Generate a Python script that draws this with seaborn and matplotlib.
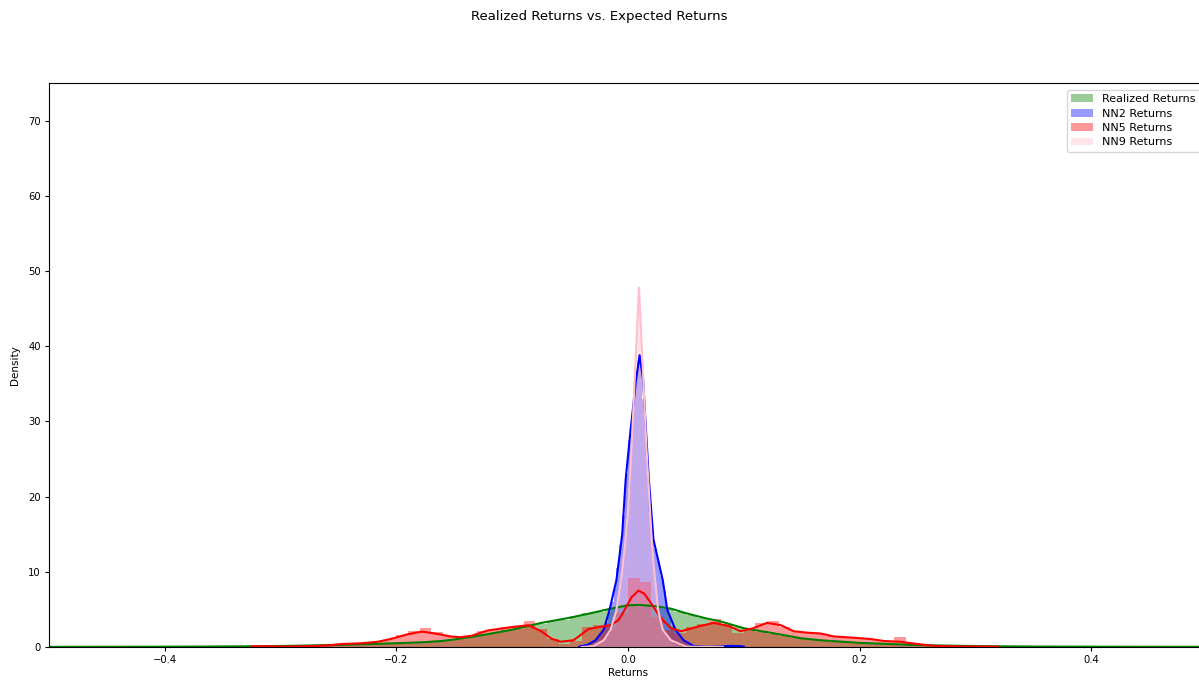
import numpy as np
import pandas as pd
import matplotlib
matplotlib.use("Agg")
import matplotlib.pyplot as plt
import seaborn as sns

# ---- histogram bar heights (density) ----
# Realized returns: bins of 0.01 from -0.35 to 0.35
realized_hist = [0.05, 0.05, 0.1, 0.1, 0.1, 0.15, 0.15, 0.2, 0.2, 0.25,
                 0.3, 0.35, 0.4, 0.45, 0.5, 0.55, 0.6, 0.65, 0.8, 0.9,
                 1.1, 1.3, 1.6, 1.8, 2.2, 2.4, 2.9, 3.1, 3.4, 3.6,
                 4.1, 4.5, 4.6, 5.0, 5.4, 5.7, 5.5, 5.3, 5.0, 4.7,
                 4.3, 3.9, 3.3, 3.0, 2.6, 2.2, 2.0, 1.7, 1.5, 1.2,
                 1.1, 0.9, 0.8, 0.7, 0.6, 0.55, 0.45, 0.4, 0.35, 0.3,
                 0.25, 0.2, 0.15, 0.15, 0.1, 0.1, 0.1, 0.05, 0.05, 0.05]
# NN2: bins of 0.0025 from -0.04 to 0.06
nn2_hist = [0.1, 0.2, 0.35, 0.5, 0.9, 1.3, 1.8, 2.4, 3.2, 4.6,
            6.0, 7.8, 10.5, 13.5, 17.5, 23.0, 27.5, 30.5, 35.0, 38.0,
            37.5, 33.0, 27.0, 20.5, 15.5, 13.0, 11.5, 9.5, 7.5, 5.0,
            3.8, 2.8, 2.2, 1.6, 1.2, 0.8, 0.5, 0.3, 0.15, 0.1]
# NN5: bins of 0.01 from -0.33 to 0.32
nn5_hist = [0.1, 0.1, 0.05, 0.05, 0.05, 0.1, 0.1, 0.2, 0.3, 0.4,
            0.5, 0.8, 1.1, 1.6, 2.1, 2.5, 2.0, 1.5, 1.3, 1.5,
            2.1, 2.3, 2.6, 2.8, 3.4, 2.4, 1.0, 0.4, 0.8, 2.7,
            2.9, 2.6, 4.5, 9.2, 8.6, 4.0, 2.2, 1.9, 2.6, 3.0,
            3.7, 2.9, 1.9, 2.2, 3.2, 3.4, 2.7, 2.1, 1.9, 1.8,
            1.5, 1.3, 1.2, 1.1, 0.9, 0.8, 1.3, 0.5, 0.3, 0.2,
            0.1, 0.05, 0.05, 0.05, 0.05]
# NN9: bins of 0.0025 from -0.035 to 0.05
nn9_hist = [0.05, 0.1, 0.2, 0.35, 0.5, 0.9, 1.3, 1.9, 2.8, 4.0,
            5.8, 8.5, 11.8, 15.5, 21.0, 28.5, 37.0, 46.5, 43.0, 33.0,
            25.5, 18.0, 12.5, 8.5, 4.8, 3.0, 2.0, 1.4, 1.0, 0.7,
            0.45, 0.3, 0.15, 0.05]

# ---- kde curves ----
realized_kde_x = [-0.5, -0.45, -0.4, -0.35, -0.3, -0.25, -0.2, -0.175, -0.161, -0.15,
                  -0.125, -0.1, -0.075, -0.05, -0.032, -0.015, 0.0, 0.01, 0.025, 0.037,
                  0.05, 0.065, 0.08, 0.1, 0.123, 0.15, 0.166, 0.2, 0.225, 0.25,
                  0.3, 0.35, 0.4, 0.45, 0.5]
realized_kde_y = [0.02, 0.03, 0.04, 0.07, 0.13, 0.28, 0.5, 0.65, 0.8, 1.0,
                  1.6, 2.3, 3.2, 3.9, 4.5, 5.1, 5.55, 5.6, 5.4, 5.1,
                  4.5, 3.9, 3.4, 2.5, 1.9, 1.15, 0.9, 0.55, 0.4, 0.26,
                  0.12, 0.06, 0.04, 0.03, 0.02]
nn2_kde_x = [-0.042, -0.035, -0.028, -0.021, -0.016, -0.01, -0.005, -0.002, 0.002, 0.007,
             0.01, 0.013, 0.018, 0.022, 0.026, 0.03, 0.034, 0.041, 0.048, 0.057,
             0.07, 0.082, 0.09, 0.097, 0.1]
nn2_kde_y = [0.05, 0.3, 0.9, 2.3, 4.9, 8.9, 15.0, 22.3, 28.5, 35.6,
             38.8, 35.6, 22.3, 14.3, 11.6, 8.9, 4.9, 2.3, 0.9, 0.1,
             0.02, 0.1, 0.15, 0.12, 0.05]
nn5_kde_x = [-0.325, -0.31, -0.3, -0.28, -0.26, -0.247, -0.23, -0.216, -0.204, -0.19,
             -0.178, -0.167, -0.153, -0.145, -0.135, -0.121, -0.103, -0.086, -0.075, -0.066,
             -0.058, -0.047, -0.034, -0.023, -0.015, -0.008, -0.003, 0.003, 0.009, 0.014,
             0.02, 0.028, 0.037, 0.046, 0.06, 0.074, 0.087, 0.097, 0.108, 0.12,
             0.132, 0.143, 0.155, 0.166, 0.178, 0.198, 0.21, 0.221, 0.235, 0.25,
             0.264, 0.278, 0.3, 0.32]
nn5_kde_y = [0.1, 0.1, 0.05, 0.1, 0.2, 0.4, 0.5, 0.7, 1.1, 1.7,
             2.05, 1.8, 1.4, 1.3, 1.5, 2.2, 2.6, 2.9, 2.1, 1.1,
             0.7, 0.9, 2.4, 2.7, 2.9, 3.6, 4.9, 6.6, 7.5, 7.1,
             5.8, 3.9, 2.5, 2.1, 2.7, 3.2, 2.8, 2.1, 2.5, 3.2,
             2.9, 2.1, 1.9, 1.8, 1.4, 1.2, 1.05, 0.8, 0.7, 0.4,
             0.15, 0.1, 0.05, 0.05]
nn9_kde_x = [-0.04, -0.03, -0.021, -0.015, -0.01, -0.006, -0.003, 0.0, 0.003, 0.007,
             0.0095, 0.012, 0.016, 0.021, 0.023, 0.026, 0.03, 0.037, 0.05, 0.06,
             0.082]
nn9_kde_y = [0.0, 0.1, 0.9, 2.3, 4.9, 8.9, 12.9, 18.0, 26.3, 39.6,
             47.8, 39.6, 26.3, 12.9, 9.5, 4.9, 2.3, 0.9, 0.05, 0.02,
             0.02]

x_ticks = [-0.4, -0.2, 0.0, 0.2, 0.4]
y_ticks = [0, 10, 20, 30, 40, 50, 60, 70]


def hist_frame(lo, width, heights):
    # one row per bin: bin centre and its density height
    n = len(heights)
    mids = np.round(lo + width * (np.arange(n) + 0.5), 6)
    return pd.DataFrame({"x": mids, "w": heights})


series = [
    ("Realized Returns", "green", -0.35, 0.01, realized_hist, realized_kde_x, realized_kde_y),
    ("NN2 Returns", "blue", -0.04, 0.0025, nn2_hist, nn2_kde_x, nn2_kde_y),
    ("NN5 Returns", "red", -0.33, 0.01, nn5_hist, nn5_kde_x, nn5_kde_y),
    ("NN9 Returns", "pink", -0.035, 0.0025, nn9_hist, nn9_kde_x, nn9_kde_y),
]

plt.rcParams["xtick.major.size"] = 2.8
plt.rcParams["ytick.major.size"] = 2.8

fig = plt.figure(figsize=(11.99, 6.8), dpi=100)
ax = fig.add_axes([49 / 1199, 1 - 647 / 680, 1158 / 1199, 564 / 680])

for label, color, lo, width, hist, kx, ky in series:
    df = hist_frame(lo, width, hist)
    sns.histplot(data=df, x="x", weights="w", binwidth=width,
                 binrange=(lo, lo + width * len(hist)),
                 stat="count", color=color, alpha=0.4, linewidth=0,
                 label=label, ax=ax)
    sns.lineplot(x=kx, y=ky, color=color, linewidth=1.5, ax=ax)

ax.set_xlim(-0.5, 0.5)
ax.set_ylim(0, 75)
ax.set_xticks(x_ticks)
ax.set_yticks(y_ticks)
ax.set_xlabel("Returns", fontsize=7.5, labelpad=2)
ax.set_ylabel("Density", fontsize=7.5, labelpad=6)
ax.tick_params(labelsize=7.2, pad=3)
ax.legend(loc="upper right", fontsize=8, labelspacing=0.4,
          borderaxespad=0.6, bbox_to_anchor=(1.0, 1.0))
fig.suptitle("Realized Returns vs. Expected Returns", y=0.985, fontsize=9.5)

fig.savefig("out.png", dpi=100)
